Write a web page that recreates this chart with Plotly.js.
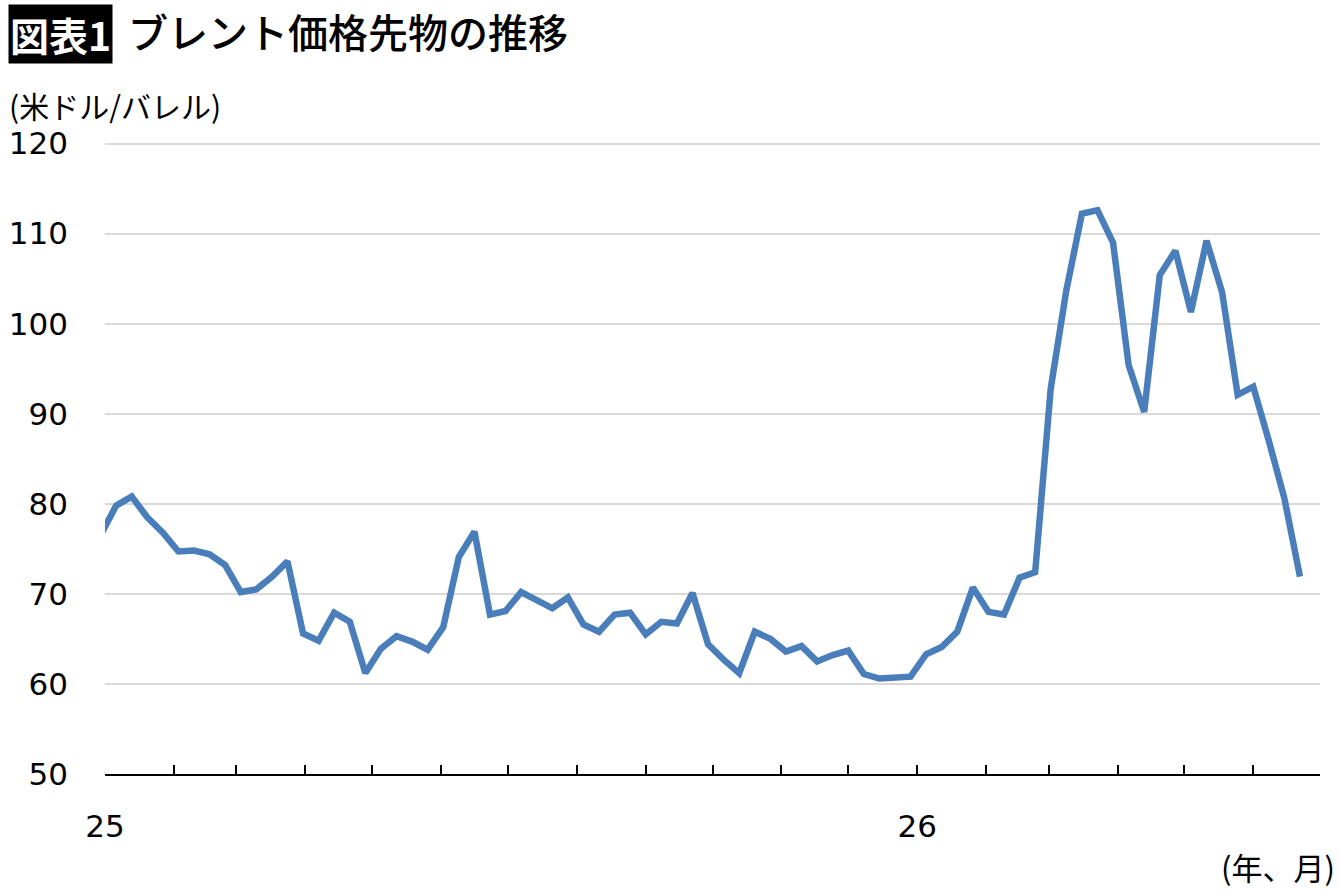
<!DOCTYPE html>
<html>
<head>
<meta charset="utf-8">
<script src="https://cdn.plot.ly/plotly-3.0.1.min.js"></script>
<style>
html,body{margin:0;padding:0;background:#fff;}
#chart{width:1340px;height:893px;}
</style>
</head>
<body>
<div id="chart"></div>
<script>
// Weekly dates (Mondays)
const dates = [
"2024-12-30","2025-01-06","2025-01-13","2025-01-20","2025-01-27",
"2025-02-03","2025-02-10","2025-02-17","2025-02-24",
"2025-03-03","2025-03-10","2025-03-17","2025-03-24","2025-03-31",
"2025-04-07","2025-04-14","2025-04-21","2025-04-28",
"2025-05-05","2025-05-12","2025-05-19","2025-05-26",
"2025-06-02","2025-06-09","2025-06-16","2025-06-23","2025-06-30",
"2025-07-07","2025-07-14","2025-07-21","2025-07-28",
"2025-08-04","2025-08-11","2025-08-18","2025-08-25",
"2025-09-01","2025-09-08","2025-09-15","2025-09-22","2025-09-29",
"2025-10-06","2025-10-13","2025-10-20","2025-10-27",
"2025-11-03","2025-11-10","2025-11-17","2025-11-24",
"2025-12-01","2025-12-08","2025-12-15","2025-12-22","2025-12-29",
"2026-01-05","2026-01-12","2026-01-19","2026-01-26",
"2026-02-02","2026-02-09","2026-02-16","2026-02-23",
"2026-03-02","2026-03-09","2026-03-16","2026-03-23","2026-03-30",
"2026-04-06","2026-04-13","2026-04-20","2026-04-27",
"2026-05-04","2026-05-11","2026-05-18","2026-05-25",
"2026-06-01","2026-06-08","2026-06-15","2026-06-22"
];

// Brent futures price (USD/barrel)
const brent = [
76.5,79.8,80.8,78.5,76.8,
74.7,74.8,74.4,73.2,
70.2,70.5,71.9,73.6,65.6,
64.8,67.9,66.9,61.2,
63.9,65.3,64.7,63.8,
66.3,74.1,76.9,67.7,68.1,
70.2,69.3,68.4,69.6,
66.6,65.8,67.7,67.9,
65.5,66.9,66.7,70.1,64.4,
62.7,61.2,65.8,65.0,
63.6,64.2,62.5,63.2,
63.7,61.1,60.6,60.7,60.8,
63.3,64.1,65.8,70.7,
68.0,67.7,71.8,72.4,
92.8,103.7,112.2,112.6,109.0,
95.4,90.2,105.4,108.1,
101.3,109.2,103.5,92.1,
93.0,87.0,80.6,71.9
];

// Monthly tick positions and labels
const monthTicks = [
"2025-01-01","2025-02-01","2025-03-01","2025-04-01","2025-05-01","2025-06-01",
"2025-07-01","2025-08-01","2025-09-01","2025-10-01","2025-11-01","2025-12-01",
"2026-01-01","2026-02-01","2026-03-01","2026-04-01","2026-05-01","2026-06-01","2026-07-01"
];
const monthLabels = ["25","","","","","","","","","","","","26","","","","","",""];

const yTicks = [50,60,70,80,90,100,110,120];

const numFont = "DejaVu Sans, Verdana, Noto Sans CJK JP, sans-serif";
const jpFont = "Noto Sans CJK JP, sans-serif";

const trace = {
  x: dates,
  y: brent,
  type: "scatter",
  mode: "lines",
  line: {color: "#4a7ebb", width: 6.5},
  hoverinfo: "x+y"
};

const layout = {
  width: 1340,
  height: 893,
  margin: {l: 105, r: 20, t: 139, b: 119},
  paper_bgcolor: "#fff",
  plot_bgcolor: "#fff",
  showlegend: false,
  title: {
    text: "ブレント価格先物の推移",
    x: 128/1340, xanchor: "left",
    y: 1 - 34/893, yanchor: "middle",
    font: {family: jpFont, size: 40, color: "#000", weight: 500}
  },
  xaxis: {
    type: "date",
    range: ["2025-01-01", "2026-07-01"],
    tickmode: "array",
    tickvals: monthTicks,
    ticktext: monthLabels,
    ticks: "inside",
    ticklen: 9,
    tickwidth: 1.5,
    tickcolor: "#000",
    showline: true,
    linecolor: "#000",
    linewidth: 2,
    showgrid: false,
    zeroline: false,
    ticklabelstandoff: 24,
    tickfont: {family: numFont, size: 31, color: "#000"},
    fixedrange: true
  },
  yaxis: {
    range: [50, 120.5],
    tickmode: "array",
    tickvals: yTicks,
    ticks: "",
    showline: false,
    showgrid: true,
    gridcolor: "#d9d9d9",
    gridwidth: 2,
    zeroline: false,
    ticklabelstandoff: 36,
    tickfont: {family: numFont, size: 31, color: "#000"},
    fixedrange: true
  },
  annotations: [
    {
      text: "<b>図表1</b>",
      xref: "paper", yref: "paper",
      x: (8 - 105)/1215, xanchor: "left",
      y: (774 - 34)/635, yanchor: "middle",
      showarrow: false,
      bgcolor: "#000",
      borderpad: 1,
      font: {family: jpFont, size: 39, color: "#fff"}
    },
    {
      text: "(米ドル/バレル)",
      xref: "paper", yref: "paper",
      x: (7 - 105)/1215, xanchor: "left",
      y: (774 - 105)/635, yanchor: "middle",
      showarrow: false,
      font: {family: jpFont, size: 30, color: "#000"}
    },
    {
      text: "(年、月)",
      xref: "paper", yref: "paper",
      x: (1337 - 105)/1215, xanchor: "right",
      y: (774 - 866)/635, yanchor: "middle",
      showarrow: false,
      font: {family: jpFont, size: 31, color: "#000"}
    }
  ]
};

Plotly.newPlot("chart", [trace], layout, {displayModeBar: false});
</script>
</body>
</html>
